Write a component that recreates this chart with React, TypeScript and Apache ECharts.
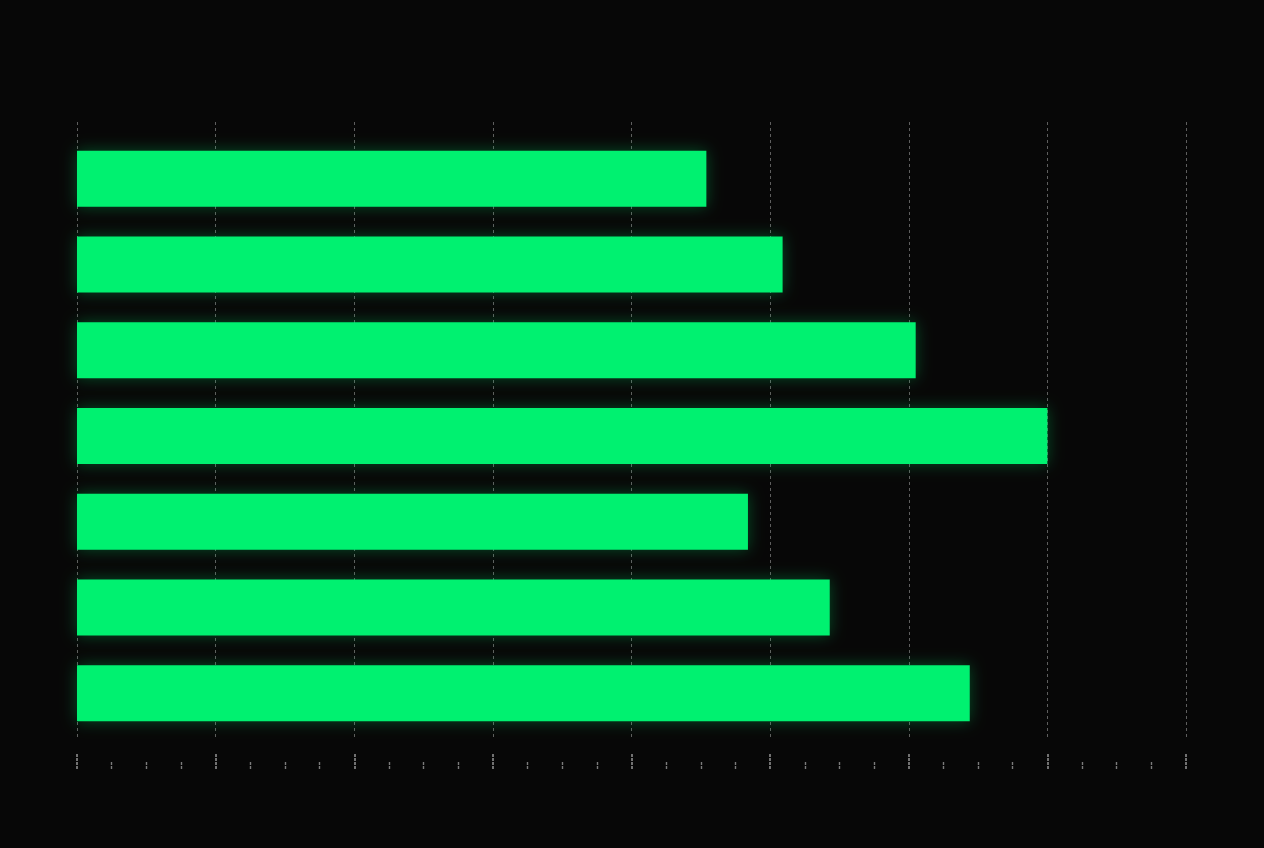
import React, { useEffect, useRef } from "react";
import * as echarts from "echarts";

const categories = ["A", "B", "C", "D", "E", "F", "G"];
const values = [45.4, 50.9, 60.5, 70.0, 48.4, 54.3, 64.4];
const axisMax = 80;
const axisInterval = 10;

export default function App() {
  const ref = useRef<HTMLDivElement>(null);
  useEffect(() => {
    if (!ref.current) return;
    const chart = echarts.init(ref.current, undefined, { renderer: "svg" });
    chart.setOption({
      animation: false,
      backgroundColor: "#070707",
      grid: [
        { left: 77, right: 78, top: 136, bottom: 112 },
        { left: 77, right: 78, top: 122, bottom: 110 },
      ],
      xAxis: [
        {
          type: "value",
          gridIndex: 0,
          min: 0,
          max: axisMax,
          interval: axisInterval,
          show: false,
        },
        {
          type: "value",
          gridIndex: 1,
          min: 0,
          max: axisMax,
          interval: axisInterval,
          offset: 31,
          axisLine: { show: false },
          axisLabel: { show: false },
          axisTick: {
            show: true,
            inside: true,
            length: 15,
            lineStyle: { color: "#8c8c8c", width: 1.6, type: [3, 1] },
          },
          minorTick: {
            show: true,
            splitNumber: 4,
            length: 7,
            lineStyle: { color: "#7a7a7a", width: 1.4, type: [3, 1] },
          },
          splitLine: {
            show: true,
            lineStyle: { color: "#5e5e5e", width: 1, type: [3, 3] },
          },
        },
      ],
      yAxis: [
        {
          type: "category",
          gridIndex: 0,
          data: categories,
          inverse: true,
          show: false,
        },
        {
          type: "category",
          gridIndex: 1,
          data: categories,
          inverse: true,
          show: false,
        },
      ],
      series: [
        {
          type: "bar",
          xAxisIndex: 0,
          yAxisIndex: 0,
          data: values,
          barWidth: 56,
          itemStyle: {
            color: "#04f170",
            shadowBlur: 16,
            shadowColor: "rgba(4, 241, 112, 0.3)",
          },
        },
      ],
    });
    return () => chart.dispose();
  }, []);
  return (
    <div
      ref={ref}
      style={{ width: 1264, height: 848, position: "absolute", left: 0, top: 0 }}
    />
  );
}
